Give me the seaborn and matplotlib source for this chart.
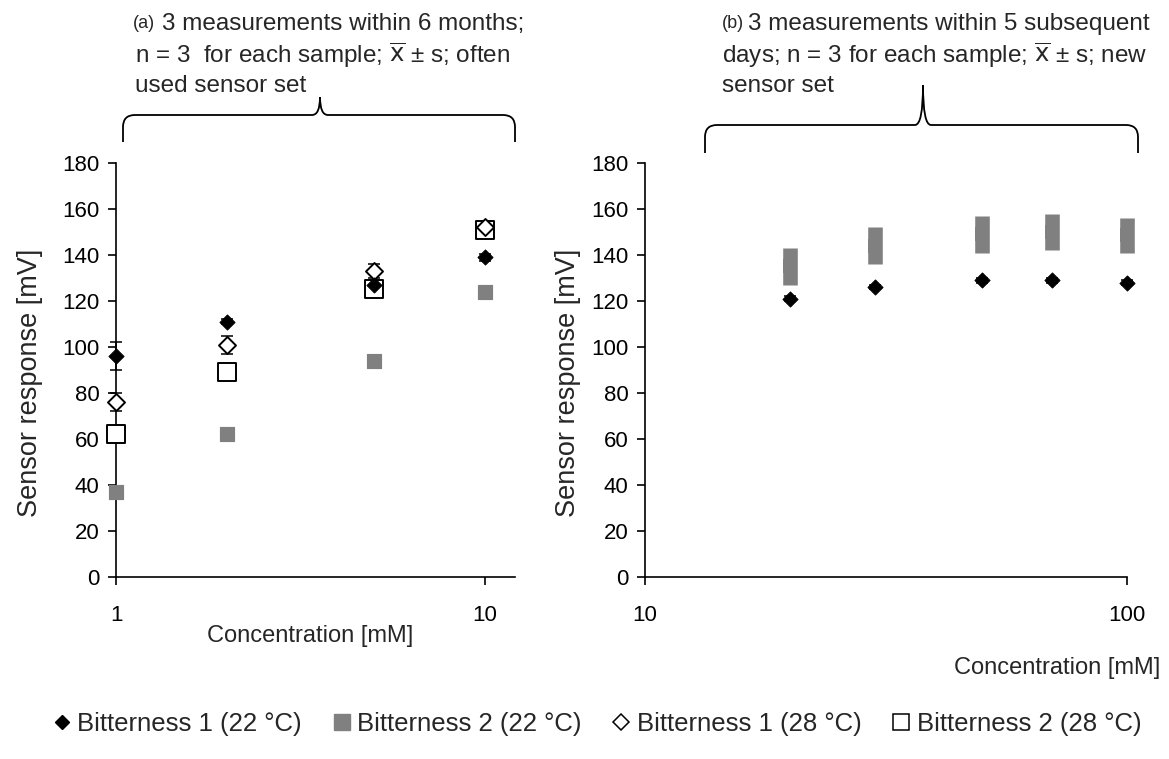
import numpy as np
import pandas as pd
import matplotlib
matplotlib.use('Agg')
import matplotlib.pyplot as plt
import seaborn as sns
from matplotlib.path import Path
from matplotlib.patches import PathPatch
from matplotlib.lines import Line2D

# data
conc_a = [1, 2, 5, 10]
b1_22_a = [96, 111, 127, 139]
b1_22_a_sd = [6, 1, 1.5, 1.5]
b2_22_a = [37, 62, 94, 124]
b2_22_a_sd = [1, 1, 1, 1]
b1_28_a = [76, 101, 133, 152]
b1_28_a_sd = [4, 4, 3, 2]
b2_28_a = [62, 89, 125, 151]
b2_28_a_sd = [1.5, 1.5, 2, 2]

conc_b = [20, 30, 50, 70, 100]
b1_22_b = [121, 126, 129, 129, 128]
b1_22_b_sd = [1, 1, 1, 1, 1]
b2_22_b = [135, 144, 149, 150, 148.5]
b2_22_b_sd = [8, 8, 8, 8, 7.5]

legend_labels = ['Bitterness 1 (22 °C)', 'Bitterness 2 (22 °C)',
                 'Bitterness 1 (28 °C)', 'Bitterness 2 (28 °C)']
yticks = [0, 20, 40, 60, 80, 100, 120, 140, 160, 180]

sns.set_theme(style='ticks')
plt.rcParams['font.family'] = ['Liberation Sans', 'DejaVu Sans']

W, H = 1169, 759
fig = plt.figure(figsize=(W / 100, H / 100), dpi=100)

def fx(x):
    return x / W

def fy(y):
    return 1 - y / H

GRAY = '#808080'

# axes placed in pixel terms
ax1 = fig.add_axes([fx(116), fy(577), (515 - 116) / W, (577 - 163) / H])
ax2 = fig.add_axes([fx(645), fy(577), (1127 - 645) / W, (577 - 163) / H])

def errs(ax, x, y, sd):
    eb = ax.errorbar(x, y, yerr=sd, fmt='none', ecolor='black', elinewidth=1.1,
                     capsize=4, capthick=1.1, zorder=2)
    for a in list(eb.lines[1]) + list(eb.lines[2]):
        a.set_clip_on(False)

# ---- panel a
df_a = pd.DataFrame({'conc': conc_a, 'b1_22': b1_22_a, 'b2_22': b2_22_a,
                     'b1_28': b1_28_a, 'b2_28': b2_28_a})
errs(ax1, conc_a, b2_22_a, b2_22_a_sd)
sns.scatterplot(data=df_a, x='conc', y='b2_22', ax=ax1, marker='s', s=110,
                color=GRAY, edgecolor=GRAY, zorder=3, clip_on=False)
errs(ax1, conc_a, b2_28_a, b2_28_a_sd)
sns.scatterplot(data=df_a, x='conc', y='b2_28', ax=ax1, marker='s', s=170,
                facecolor='white', edgecolor='black', linewidth=1.4, zorder=3,
                clip_on=False)
errs(ax1, conc_a, b1_28_a, b1_28_a_sd)
sns.scatterplot(data=df_a, x='conc', y='b1_28', ax=ax1, marker='D', s=75,
                facecolor='white', edgecolor='black', linewidth=1.4, zorder=4,
                clip_on=False)
errs(ax1, conc_a, b1_22_a, b1_22_a_sd)
sns.scatterplot(data=df_a, x='conc', y='b1_22', ax=ax1, marker='D', s=60,
                color='black', edgecolor='black', zorder=5, clip_on=False)

# ---- panel b
df_b = pd.DataFrame({'conc': conc_b, 'b1_22': b1_22_b, 'b2_22': b2_22_b})
lo = np.array(b2_22_b) - np.array(b2_22_b_sd)
hi = np.array(b2_22_b) + np.array(b2_22_b_sd)
vl = ax2.vlines(conc_b, lo, hi, colors=GRAY, linewidth=10.5, zorder=3, clip_on=False)
vl.set_capstyle('butt')
sns.scatterplot(data=df_b, x='conc', y='b2_22', ax=ax2, marker='s', s=105,
                color=GRAY, linewidth=0, zorder=3, clip_on=False)
errs(ax2, conc_b, b1_22_b, b1_22_b_sd)
sns.scatterplot(data=df_b, x='conc', y='b1_22', ax=ax2, marker='D', s=60,
                color='black', edgecolor='black', zorder=5, clip_on=False)

for ax, lim, ticks, tlabels in [(ax1, (1, 12.06), [1, 10], ['1', '10']),
                                (ax2, (10, 100), [10, 100], ['10', '100'])]:
    ax.set_xscale('log')
    ax.set_xlim(*lim)
    ax.set_ylim(0, 180)
    ax.set_xticks(ticks)
    ax.set_xticklabels(tlabels)
    ax.xaxis.set_minor_locator(matplotlib.ticker.NullLocator())
    ax.set_yticks(yticks)
    ax.set_yticklabels([str(t) for t in yticks])
    for sp in ['top', 'right']:
        ax.spines[sp].set_visible(False)
    for sp in ['left', 'bottom']:
        ax.spines[sp].set_linewidth(1.2)
        ax.spines[sp].set_color('black')
    ax.tick_params(axis='y', direction='out', length=6, width=1.2,
                   labelsize=16, pad=6, colors='black')
    ax.tick_params(axis='x', direction='out', length=6, width=1.2,
                   labelsize=16, pad=14, colors='black')
    ax.set_ylabel('Sensor response [mV]', fontsize=19.5)
    ax.set_xlabel('Concentration [mM]', fontsize=17)
    ax.xaxis.label.set_va('center')
    ax.yaxis.label.set_va('center')
    ax.patch.set_alpha(0)

ax1.yaxis.set_label_coords((30 - 116) / 399, 0.47)
ax1.xaxis.set_label_coords((310 - 116) / 399, (577 - 636) / 414)
ax2.yaxis.set_label_coords((568 - 645) / 482, 0.47)
ax2.xaxis.label.set_ha('right')
ax2.xaxis.set_label_coords((1160 - 645) / 482, (577 - 668) / 414)

# ---- headings
fs_t = 17.5
fig.text(fx(133), fy(24), '(a)', fontsize=13, va='center')
fig.text(fx(162), fy(24), '3 measurements within 6 months;', fontsize=fs_t, va='center')
fig.text(fx(135), fy(55), r'n = 3  for each sample; $\overline{\mathrm{x}}$ ± s; often',
         fontsize=fs_t, va='center')
fig.text(fx(135), fy(86), 'used sensor set', fontsize=fs_t, va='center')

fig.text(fx(722), fy(24), '(b)', fontsize=13, va='center')
fig.text(fx(748), fy(24), '3 measurements within 5 subsequent', fontsize=fs_t, va='center')
fig.text(fx(722), fy(55), r'days; n = 3 for each sample; $\overline{\mathrm{x}}$ ± s; new',
         fontsize=fs_t, va='center')
fig.text(fx(722), fy(86), 'sensor set', fontsize=fs_t, va='center')

# curly brackets
def bracket(left, right, center, top, bottom, peak):
    r = 12
    pts = [(left, bottom), (left, top + r), (left, top), (left + r, top),
           (center - 8, top), (center, top), (center, peak),
           (center, top), (center + 8, top),
           (right - r, top), (right, top), (right, top + r),
           (right, bottom)]
    codes = [Path.MOVETO, Path.LINETO, Path.CURVE3, Path.CURVE3,
             Path.LINETO, Path.CURVE3, Path.CURVE3,
             Path.CURVE3, Path.CURVE3,
             Path.LINETO, Path.CURVE3, Path.CURVE3,
             Path.LINETO]
    verts = [(fx(x), fy(y)) for x, y in pts]
    fig.patches.append(PathPatch(Path(verts, codes), transform=fig.transFigure,
                                 facecolor='none', edgecolor='black', lw=1.3))

bracket(123, 515, 320, 115, 142, 97)
bracket(705, 1138, 923, 125, 153, 85)

# legend
handles = [
    Line2D([], [], ls='none', marker='D', ms=7, mfc='black', mec='black'),
    Line2D([], [], ls='none', marker='s', ms=11, mfc=GRAY, mec=GRAY),
    Line2D([], [], ls='none', marker='D', ms=8, mfc='white', mec='black', mew=1.1),
    Line2D([], [], ls='none', marker='s', ms=11, mfc='white', mec='black', mew=1.1),
]
fig.legend(handles, legend_labels, loc='center', bbox_to_anchor=(fx(597), fy(724)),
           ncol=4, frameon=False, fontsize=18.5, handlelength=0.7,
           handletextpad=0.25, columnspacing=1.2, borderpad=0)

fig.savefig('out.png', dpi=100)
